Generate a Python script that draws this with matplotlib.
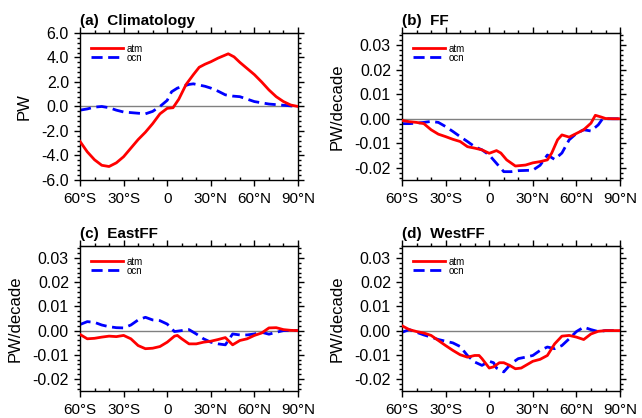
import numpy as np
import matplotlib
matplotlib.use("Agg")
import matplotlib.pyplot as plt
from matplotlib.ticker import MultipleLocator

plt.rcParams['font.family'] = ['Liberation Sans', 'DejaVu Sans']

# latitudes and transports
lat_a = [-60, -55, -50, -45, -40, -35, -30, -25, -20, -15, -10, -5, 0, 4, 8, 13, 18, 22, 26, 30, 35, 42, 46, 50, 55, 60, 65, 70, 75, 80, 85, 90]
atm_a = [-2.85, -3.7, -4.35, -4.8, -4.9, -4.6, -4.1, -3.4, -2.7, -2.1, -1.4, -0.6, -0.15, -0.1, 0.6, 1.8, 2.6, 3.2, 3.45, 3.65, 3.95, 4.3, 4.05, 3.6, 3.1, 2.6, 2.0, 1.35, 0.8, 0.4, 0.12, 0.0]
lat_ao = [-60, -55, -50, -45, -40, -35, -30, -25, -20, -15, -10, -5, 0, 3, 7, 11, 15, 18, 22, 26, 30, 35, 40, 45, 50, 55, 60, 65, 70, 75, 80, 85, 90]
ocn_a = [-0.3, -0.2, -0.05, 0.0, -0.1, -0.3, -0.45, -0.5, -0.55, -0.6, -0.4, 0.0, 0.5, 1.2, 1.5, 1.65, 1.8, 1.85, 1.75, 1.65, 1.5, 1.25, 0.95, 0.85, 0.8, 0.6, 0.4, 0.3, 0.2, 0.15, 0.1, 0.05, 0.0]

lat_b = [-60, -55, -50, -45, -40, -35, -30, -25, -20, -15, -10, -5, 0, 5, 8, 12, 18, 25, 30, 35, 40, 43, 47, 50, 55, 60, 65, 70, 73, 77, 80, 85, 90]
atm_b = [-0.0007, -0.0012, -0.0015, -0.002, -0.0045, -0.0063, -0.0073, -0.0084, -0.0093, -0.0114, -0.012, -0.0127, -0.0141, -0.013, -0.014, -0.0168, -0.0193, -0.0189, -0.018, -0.0175, -0.0168, -0.014, -0.0086, -0.0066, -0.0075, -0.006, -0.0045, -0.0018, 0.0014, 0.0007, 0.0001, 0.0, 0.0]
lat_bo = [-60, -55, -50, -45, -40, -35, -30, -25, -20, -15, -10, -5, 0, 5, 10, 15, 20, 30, 35, 40, 45, 50, 55, 60, 65, 70, 75, 78, 85, 90]
ocn_b = [-0.002, -0.002, -0.0018, -0.0015, -0.0011, -0.0015, -0.0032, -0.0052, -0.0073, -0.0093, -0.0114, -0.0127, -0.0148, -0.0182, -0.0216, -0.0216, -0.0212, -0.021, -0.019, -0.0148, -0.0166, -0.014, -0.0086, -0.006, -0.0045, -0.005, -0.0025, 0.0, 0.0, 0.0]

lat_c = [-60, -55, -50, -45, -40, -35, -30, -25, -20, -15, -10, -5, 0, 5, 7, 10, 15, 20, 25, 30, 35, 40, 45, 50, 55, 60, 65, 70, 75, 80, 85, 90]
atm_c = [-0.0016, -0.0034, -0.0032, -0.0027, -0.0023, -0.0025, -0.002, -0.0034, -0.0062, -0.0075, -0.0073, -0.0066, -0.0048, -0.0023, -0.002, -0.0034, -0.0055, -0.0055, -0.0048, -0.0044, -0.0037, -0.0029, -0.0059, -0.0041, -0.0034, -0.002, -0.001, 0.0011, 0.0012, 0.0004, 0.0001, 0.0]
lat_co = [-60, -55, -50, -45, -40, -35, -30, -25, -20, -15, -10, -5, 0, 5, 10, 15, 20, 25, 30, 35, 40, 45, 50, 55, 60, 65, 70, 75, 80, 85, 90]
ocn_c = [0.0025, 0.0037, 0.0034, 0.0023, 0.0016, 0.0012, 0.0011, 0.0023, 0.0044, 0.0055, 0.0044, 0.0041, 0.0027, -0.0004, 0.0, 0.0004, -0.0014, -0.0034, -0.0048, -0.0055, -0.0059, -0.0014, -0.0018, -0.0018, -0.0014, -0.0007, -0.0015, -0.0007, 0.0, 0.0, 0.0]

lat_d = [-60, -55, -50, -45, -40, -35, -30, -25, -20, -15, -10, -7, -5, 0, 3, 7, 10, 14, 18, 22, 30, 35, 40, 45, 50, 55, 60, 65, 70, 75, 80, 85, 90]
atm_d = [0.002, 0.0004, -0.0004, -0.001, -0.002, -0.0041, -0.0062, -0.0082, -0.01, -0.011, -0.0103, -0.0103, -0.0116, -0.0155, -0.015, -0.0133, -0.0133, -0.0144, -0.0158, -0.0155, -0.0127, -0.0119, -0.0103, -0.0055, -0.0023, -0.002, -0.0027, -0.0037, -0.0014, -0.0003, 0.0, 0.0, 0.0]
lat_do = [-60, -55, -50, -45, -40, -35, -30, -25, -20, -15, -10, -5, 0, 3, 5, 10, 15, 20, 25, 30, 35, 40, 45, 50, 55, 60, 65, 70, 75, 80, 85, 90]
ocn_d = [-0.0007, 0.0004, -0.0007, -0.0018, -0.0027, -0.0037, -0.0044, -0.0051, -0.0066, -0.0103, -0.013, -0.0144, -0.0127, -0.0133, -0.0155, -0.0171, -0.0137, -0.0116, -0.011, -0.0103, -0.0082, -0.0068, -0.0075, -0.0062, -0.0034, -0.0004, 0.0014, 0.0004, -0.0004, 0.0, 0.0, 0.0]

xticks = [-60, -30, 0, 30, 60, 90]
xlabels = ['60°S', '30°S', '0', '30°N', '60°N', '90°N']

panels = [
    ('(a)  Climatology', 'PW', lat_a, atm_a, lat_ao, ocn_a),
    ('(b)  FF', 'PW/decade', lat_b, atm_b, lat_bo, ocn_b),
    ('(c)  EastFF', 'PW/decade', lat_c, atm_c, lat_co, ocn_c),
    ('(d)  WestFF', 'PW/decade', lat_d, atm_d, lat_do, ocn_d),
]
boxes = [
    [0.1246, 0.5694, 0.3396, 0.3517],
    [0.6262, 0.5694, 0.3396, 0.3517],
    [0.1246, 0.0646, 0.3396, 0.3469],
    [0.6262, 0.0646, 0.3396, 0.3469],
]

fig = plt.figure(figsize=(6.42, 4.18), dpi=100)
for i, (title, ylab, la, atm, lo, ocn) in enumerate(panels):
    ax = fig.add_axes(boxes[i])
    ax.axhline(0, color='#808080', lw=1.0, zorder=1)
    ax.plot(la, atm, color='#ff0000', lw=2.0, label='atm', zorder=3)
    ax.plot(lo, ocn, color='#0000ff', lw=2.0, ls=(0, (4, 2)), label='ocn', zorder=2)
    ax.set_xlim(-60, 90)
    ax.set_xticks(xticks)
    ax.set_xticklabels(xlabels)
    ax.xaxis.set_minor_locator(MultipleLocator(10))
    if i == 0:
        ax.set_ylim(-6, 6)
        ax.set_yticks(np.arange(-6, 6.1, 2))
        ax.set_yticklabels(['%.1f' % v for v in np.arange(-6, 6.1, 2)])
        ax.yaxis.set_minor_locator(MultipleLocator(0.4))
    else:
        ax.set_ylim(-0.025, 0.035)
        yt = [-0.02, -0.01, 0.0, 0.01, 0.02, 0.03]
        ax.set_yticks(yt)
        ax.set_yticklabels(['%.2f' % v for v in yt])
        ax.yaxis.set_minor_locator(MultipleLocator(0.002))
    ax.tick_params(which='both', direction='out', right=True, width=1.0)
    ax.tick_params(axis='y', labelsize=11.5)
    ax.tick_params(axis='x', which='major', pad=4, labelsize=11)
    ax.tick_params(axis='x', which='minor', direction='in')
    ax.tick_params(which='major', length=4.5)
    ax.tick_params(which='minor', length=2.5)
    # top axis ticks pointing outward
    top = ax.secondary_xaxis('top')
    top.set_xticks(xticks)
    top.set_xticklabels([])
    top.xaxis.set_minor_locator(MultipleLocator(10))
    top.tick_params(which='both', direction='out', width=1.0)
    top.tick_params(which='major', length=4.5)
    top.tick_params(which='minor', length=2.5)
    for s in ax.spines.values():
        s.set_linewidth(1.0)
    ax.set_ylabel(ylab, fontsize=12, labelpad=7)
    ax.set_title(title, loc='left', fontweight='bold', fontsize=11, pad=6)
    ax.legend(loc='upper left', frameon=False, fontsize=7, handlelength=3.3,
              labelspacing=-0.1, handletextpad=0.4, borderaxespad=0.7)

fig.savefig('out.png', dpi=100)
